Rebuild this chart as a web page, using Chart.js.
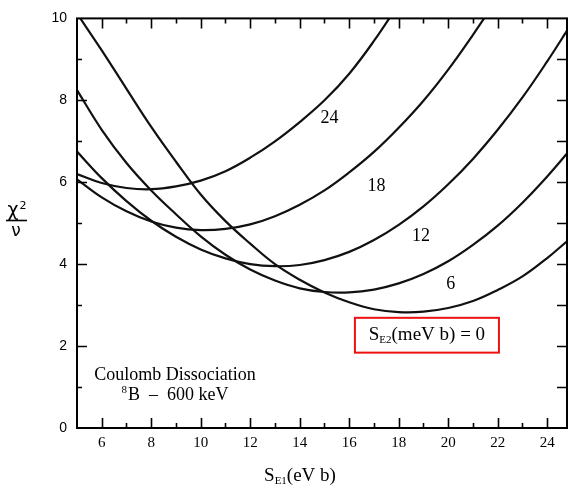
<!DOCTYPE html>
<html>
<head>
<meta charset="utf-8">
<script src="https://cdn.jsdelivr.net/npm/chart.js@4.4.0/dist/chart.umd.min.js"></script>
<style>
  html, body { margin: 0; padding: 0; background: #fff; }
  #wrap { width: 570px; height: 485px; }
</style>
</head>
<body>
<div id="wrap"><canvas id="chi2"></canvas></div>
<script>
// S_E1 grid (eV b) shared by all curves
var sE1 = [5, 6, 7, 8, 9, 10, 11, 12, 13, 14, 15, 16, 17, 18, 19, 20, 21, 22, 23, 24, 24.8];

// reduced chi-square for each S_E2 value (meV b)
var chiE2_0  = [10.12, 9.22, 8.28, 7.35, 6.5, 5.7, 5.05, 4.5, 4.0, 3.62, 3.31, 3.07, 2.9, 2.83, 2.84, 2.93, 3.1, 3.37, 3.7, 4.15, 4.56];
var chiE2_6  = [8.25, 7.28, 6.47, 5.8, 5.22, 4.68, 4.23, 3.87, 3.6, 3.41, 3.32, 3.31, 3.38, 3.53, 3.76, 4.07, 4.47, 4.94, 5.5, 6.14, 6.7];
var chiE2_12 = [6.75, 6.1, 5.54, 5.06, 4.67, 4.36, 4.14, 4.0, 3.95, 3.98, 4.1, 4.3, 4.59, 4.96, 5.41, 5.95, 6.57, 7.28, 8.07, 8.95, 9.7];
var chiE2_18 = [6.07, 5.63, 5.29, 5.04, 4.89, 4.83, 4.86, 4.97, 5.17, 5.45, 5.8, 6.24, 6.74, 7.33, 7.99, 8.75, 9.6, 10.5];
var chiE2_24 = [6.2, 5.98, 5.86, 5.83, 5.9, 6.04, 6.27, 6.6, 7.0, 7.47, 8.0, 8.65, 9.45, 10.35];

var curveNames = ['6', '12', '18', '24'];
// where each curve's S_E2 label sits (S_E1, chi2/nu)
var labelAt = [[20.1, 3.5], [18.9, 4.68], [17.1, 5.9], [15.2, 7.55]];

var xTicks = [6, 8, 10, 12, 14, 16, 18, 20, 22, 24];
var yTicks = [0, 2, 4, 6, 8, 10];

function pts(ys) {
  return ys.map(function (v, i) { return { x: sE1[i], y: v }; });
}

function curve(ys) {
  return {
    data: pts(ys),
    borderColor: '#111',
    borderWidth: 2.2,
    pointRadius: 0,
    tension: 0.4,
    fill: false
  };
}

// draws a string where parts can be sub/superscript, left to right
function richText(c, x, y, parts) {
  parts.forEach(function (p) {
    c.font = p.font;
    c.fillText(p.t, x, y + (p.dy || 0));
    x += c.measureText(p.t).width + (p.gap || 0);
  });
}

function richWidth(c, parts) {
  var w = 0;
  parts.forEach(function (p) { c.font = p.font; w += c.measureText(p.t).width + (p.gap || 0); });
  return w;
}

var SERIF = '"Liberation Serif", "Times New Roman", serif';

var decorations = {
  id: 'decorations',
  afterDraw: function (chart) {
    var c = chart.ctx, a = chart.chartArea, xs = chart.scales.x, ys = chart.scales.y;
    c.save();

    // frame
    c.strokeStyle = '#000';
    c.lineWidth = 2;
    c.strokeRect(a.left, a.top, a.right - a.left, a.bottom - a.top);

    // inward tick marks on all four sides
    c.lineWidth = 1.6;
    c.beginPath();
    for (var v = 6; v <= 24; v++) {
      var px = Math.round(xs.getPixelForValue(v)) + 0.5, len = v % 2 ? 5 : 10;
      c.moveTo(px, a.bottom); c.lineTo(px, a.bottom - len);
      c.moveTo(px, a.top); c.lineTo(px, a.top + len);
    }
    for (var w = 1; w < 10; w++) {
      var py = Math.round(ys.getPixelForValue(w)) + 0.5, len2 = w % 2 ? 5 : 10;
      c.moveTo(a.left, py); c.lineTo(a.left + len2, py);
      c.moveTo(a.right, py); c.lineTo(a.right - 10, py);
    }
    c.stroke();

    c.fillStyle = '#000';
    c.textBaseline = 'middle';
    c.textAlign = 'center';

    // curve labels
    c.font = '18px ' + SERIF;
    curveNames.forEach(function (n, i) {
      c.fillText(n, xs.getPixelForValue(labelAt[i][0]), ys.getPixelForValue(labelAt[i][1]));
    });

    // reaction note
    c.font = '18px ' + SERIF;
    c.fillText('Coulomb Dissociation', 175, 375);
    c.textAlign = 'left';
    var noteParts = [
      { t: '8', font: '11px ' + SERIF, dy: -5, gap: 1 },
      { t: 'B  \u2013  600 keV', font: '18px ' + SERIF }
    ];
    richText(c, 175 - richWidth(c, noteParts) / 2, 395, noteParts);

    // S_E2 box
    var bx0 = xs.getPixelForValue(16.23), bx1 = xs.getPixelForValue(22.05);
    var by0 = ys.getPixelForValue(2.69), by1 = ys.getPixelForValue(1.84);
    c.strokeStyle = '#ee1111';
    c.lineWidth = 2;
    c.strokeRect(bx0, by0, bx1 - bx0, by1 - by0);
    c.textBaseline = 'alphabetic';
    var boxParts = [
      { t: 'S', font: '19px ' + SERIF },
      { t: 'E2', font: '11px ' + SERIF, dy: 3 },
      { t: '(meV b) = 0', font: '19px ' + SERIF }
    ];
    richText(c, (bx0 + bx1) / 2 - richWidth(c, boxParts) / 2, 340, boxParts);

    // x axis title
    var xParts = [
      { t: 'S', font: '19px ' + SERIF },
      { t: 'E1', font: '11px ' + SERIF, dy: 3 },
      { t: '(eV b)', font: '19px ' + SERIF }
    ];
    richText(c, 300 - richWidth(c, xParts) / 2, 481, xParts);

    // y axis title chi^2 / nu
    c.textAlign = 'center';
    c.font = '19px "DejaVu Sans", sans-serif';
    c.fillText('\u03c7', 13, 216);
    c.font = '11px "DejaVu Sans", sans-serif';
    c.fillText('2', 23, 209);
    c.lineWidth = 1.6;
    c.strokeStyle = '#000';
    c.beginPath(); c.moveTo(6, 220.5); c.lineTo(27, 220.5); c.stroke();
    c.font = '17px "DejaVu Sans", sans-serif';
    c.fillText('\u03bd', 16, 236);

    c.restore();
  }
};

new Chart(document.getElementById('chi2'), {
  type: 'line',
  data: {
    datasets: [curve(chiE2_0), curve(chiE2_6), curve(chiE2_12), curve(chiE2_18), curve(chiE2_24)]
  },
  options: {
    responsive: true,
    maintainAspectRatio: false,
    animation: false,
    layout: { padding: { top: 16, right: 3, left: 0, bottom: 0 } },
    plugins: { legend: { display: false }, tooltip: { enabled: false } },
    scales: {
      x: {
        type: 'linear', min: 5, max: 24.8,
        grid: { display: false, drawTicks: false },
        border: { display: false },
        afterBuildTicks: function (s) { s.ticks = xTicks.map(function (v) { return { value: v }; }); },
        afterFit: function (s) { s.height = 57; },
        ticks: { color: '#000', padding: 6, maxRotation: 0, autoSkip: false, font: { family: SERIF, size: 15 } }
      },
      y: {
        min: 0, max: 10,
        grid: { display: false, drawTicks: false },
        border: { display: false },
        afterBuildTicks: function (s) { s.ticks = yTicks.map(function (v) { return { value: v }; }); },
        afterFit: function (s) { s.width = 77; },
        ticks: { color: '#000', padding: 10, font: { family: '"Liberation Sans", Arial, sans-serif', size: 14 } }
      }
    }
  },
  plugins: [decorations]
});
</script>
</body>
</html>
